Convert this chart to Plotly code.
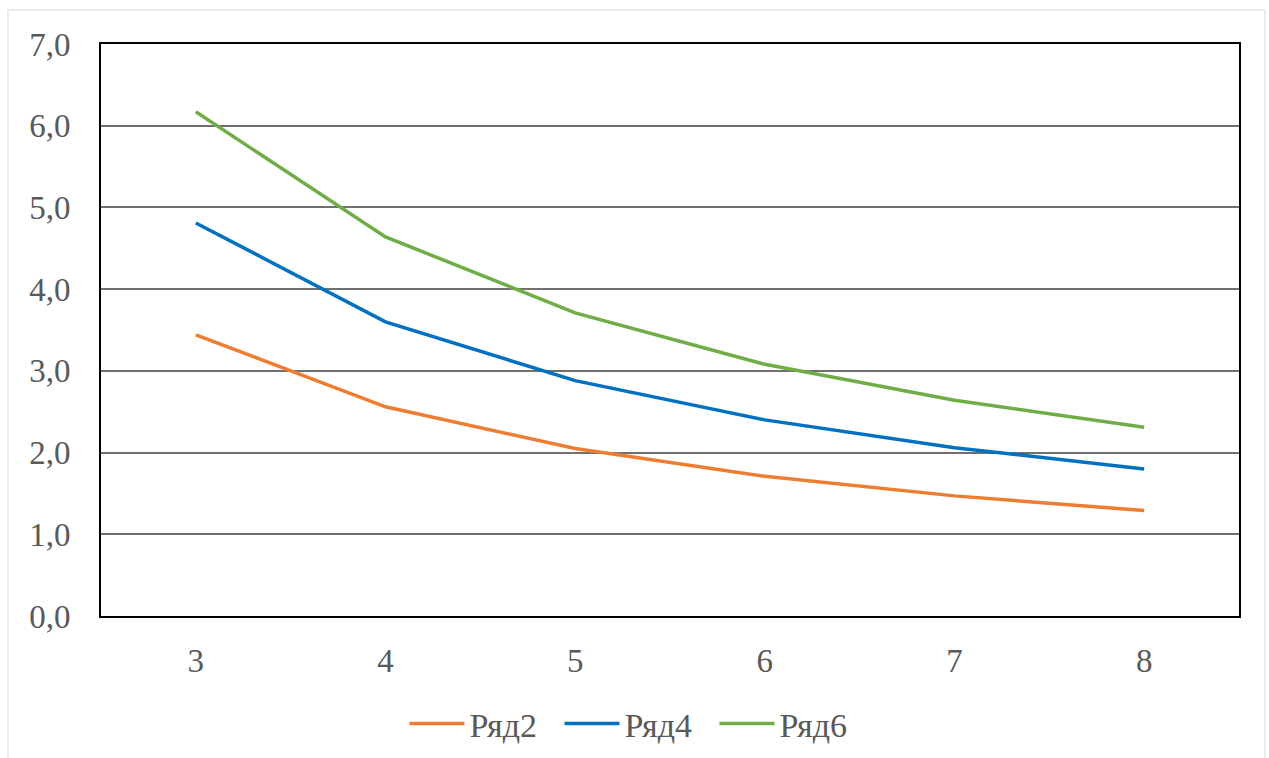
import plotly.graph_objects as go

categories = ["3", "4", "5", "6", "7", "8"]
ryad2 = [3.44, 2.56, 2.05, 1.71, 1.47, 1.29]
ryad4 = [4.81, 3.60, 2.88, 2.40, 2.06, 1.80]
ryad6 = [6.17, 4.64, 3.71, 3.08, 2.64, 2.31]
names = ["Ряд2", "Ряд4", "Ряд6"]
colors = ["#ED7D31", "#0070C0", "#70AD47"]

fig = go.Figure()
for name, vals, col in zip(names, [ryad2, ryad4, ryad6], colors):
    fig.add_trace(go.Scatter(x=categories, y=vals, name=name, mode="lines",
                             line=dict(color=col, width=3.5)))

W, H = 1269, 758
ml, mr, mt, mb = 101, 30, 44, 142
pw, ph = W - ml - mr, H - mt - mb

def px(x):
    return (x - ml) / pw

def py(y):
    return (H - mb - y) / ph

fig.update_layout(
    width=W, height=H,
    margin=dict(l=ml, r=mr, t=mt, b=mb, autoexpand=False),
    paper_bgcolor="white", plot_bgcolor="white",
    separators=", ",
    font=dict(family="Liberation Serif", size=33, color="#595959"),
    showlegend=True,
    legend=dict(orientation="h", x=px(637), xanchor="center", y=py(724), yanchor="middle",
                font=dict(size=34, color="#595959"), itemwidth=55, tracegroupgap=0,
                entrywidth=85),
    shapes=[dict(type="rect", xref="paper", yref="paper",
                 x0=px(8), x1=px(1265), y0=py(765), y1=py(10),
                 line=dict(color="#D9D9D9", width=1), layer="below")],
)
fig.update_xaxes(type="category", range=[-0.5, 5.5], showgrid=False,
                 showline=True, linecolor="black", linewidth=2, mirror=True,
                 ticks="", tickfont=dict(size=33, color="#595959"), ticklabelstandoff=14)
fig.update_yaxes(range=[0, 7], dtick=1, tickformat=".1f", showgrid=True,
                 gridcolor="#707070", gridwidth=1.5, zeroline=False,
                 showline=True, linecolor="black", linewidth=2, mirror=True,
                 ticks="", tickfont=dict(size=33, color="#595959"), ticklabelstandoff=22)

fig.write_html("out.html")
